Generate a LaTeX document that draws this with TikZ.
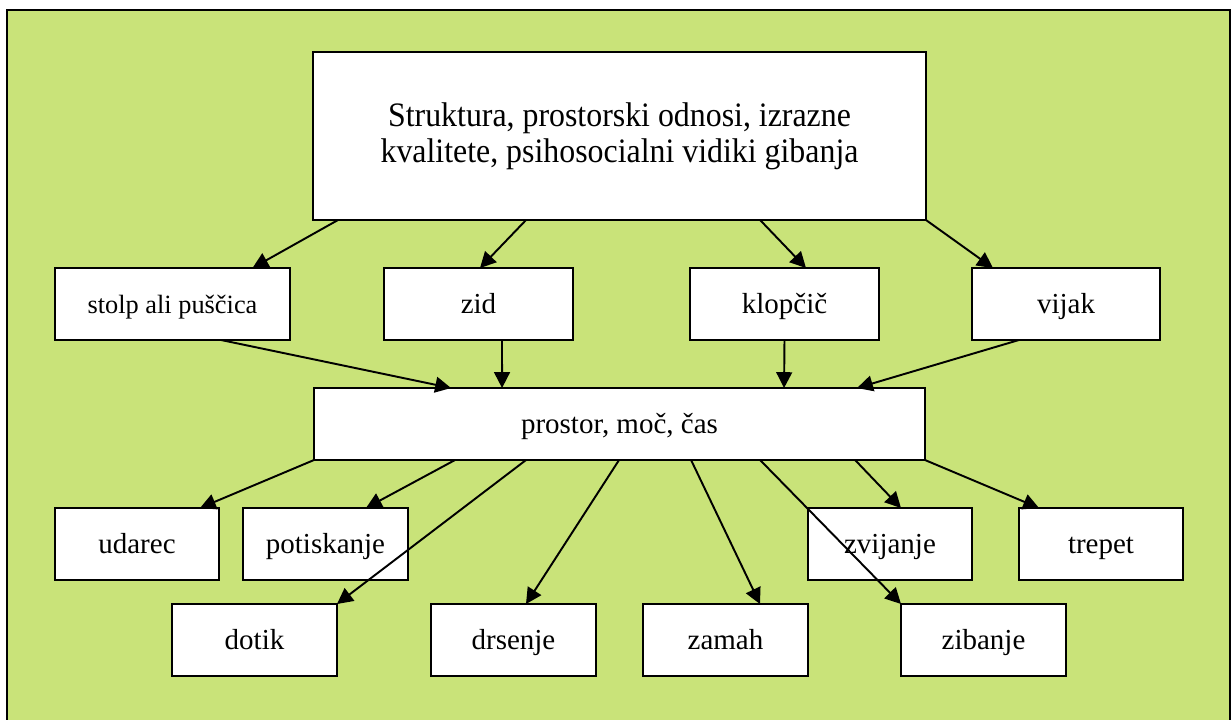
\documentclass[tikz,border=0pt]{standalone}
\usepackage{fontspec}
\setmainfont{Liberation Serif}
\newfontfamily\tallserif[FakeStretch=0.93]{Liberation Serif}
\usetikzlibrary{arrows.meta}
\definecolor{leafgreen}{RGB}{201,227,121}
\begin{document}
\begin{tikzpicture}[x=0.02cm,y=-0.02cm,>={Triangle[length=9pt,width=9pt]},line join=miter,
	box/.style={draw,fill=white,line width=1.1pt,inner sep=0pt,outer sep=0pt,minimum height=1.44cm},
	word/.style={box,text height=14pt,text depth=3pt,font=\fontsize{16.5}{20}\selectfont},
	link/.style={->,line width=1.1pt}]
			\clip (0,0) rectangle (1232,720);
			\draw[fill=leafgreen,line width=0.8pt] (7,10) rectangle (1230,730);
			
			\node[box,minimum width=12.26cm,minimum height=3.36cm,align=center,font={\tallserif\fontsize{19.5}{20.4}\selectfont\lineskiplimit=-10pt}] (main) at (619.5,136) {Struktura, prostorski odnosi, izrazne\\kvalitete, psihosocialni vidiki gibanja};
			\node[word,minimum width=4.7cm,font=\fontsize{15}{20}\selectfont] (stolp) at (172.5,304) {stolp ali puščica};
			\node[word,minimum width=3.78cm] (zid) at (478.5,304) {zid};
			\node[word,minimum width=3.78cm] (klopcic) at (784.5,304) {klopčič};
			\node[word,minimum width=3.76cm] (vijak) at (1066,304) {vijak};
			\node[word,minimum width=12.22cm] (pmc) at (619.5,424) {prostor, moč, čas};
			\node[word,minimum width=3.28cm] (udarec) at (137,544) {udarec};
			\node[word,minimum width=3.3cm] (potiskanje) at (325.5,544) {potiskanje};
			\node[word,minimum width=3.28cm] (zvijanje) at (890,544) {zvijanje};
			\node[word,minimum width=3.28cm] (trepet) at (1101,544) {trepet};
			\node[word,minimum width=3.3cm] (dotik) at (254.5,640) {dotik};
			\node[word,minimum width=3.3cm] (drsenje) at (513.5,640) {drsenje};
			\node[word,minimum width=3.3cm] (zamah) at (725.5,640) {zamah};
			\node[word,minimum width=3.3cm] (zibanje) at (983.5,640) {zibanje};
			
			\draw[link] ([shift={(25,0)}]main.south west)--([shift={(80,0)}]stolp.north);
			\draw[link] ([shift={(213,0)}]main.south west)--([shift={(1.5,0)}]zid.north);
			\draw[link] ([shift={(447,0)}]main.south west)--([shift={(21.5,0)}]klopcic.north);
			\draw[link] (main.south east)--([shift={(-73,0)}]vijak.north);
			\draw[link] ([shift={(48.5,0)}]stolp.south)--([shift={(137,0)}]pmc.north west);
			\draw[link] ([shift={(23.5,0)}]zid.south)--([shift={(188,0)}]pmc.north west);
			\draw[link] (klopcic.south)--([shift={(470,0)}]pmc.north west);
			\draw[link] ([shift={(-47,0)}]vijak.south)--([shift={(543,0)}]pmc.north west);
			
			\draw[link] (pmc.south west)--([shift={(63,0)}]udarec.north);
			\draw[link] ([shift={(141,0)}]pmc.south west)--([shift={(40.5,0)}]potiskanje.north);
			\draw[link] ([shift={(212,0)}]pmc.south west)--(dotik.north east);
			\draw[link] ([shift={(305,0)}]pmc.south west)--([shift={(12.5,0)}]drsenje.north);
			\draw[link] ([shift={(377,0)}]pmc.south west)--([shift={(34.5,0)}]zamah.north);
			\draw[link] ([shift={(446,0)}]pmc.south west)--(zibanje.north west);
			\draw[link] ([shift={(541,0)}]pmc.south west)--([shift={(11,0)}]zvijanje.north);
			\draw[link] (pmc.south east)--([shift={(-62,0)}]trepet.north);
			\end{tikzpicture}
\end{document}
